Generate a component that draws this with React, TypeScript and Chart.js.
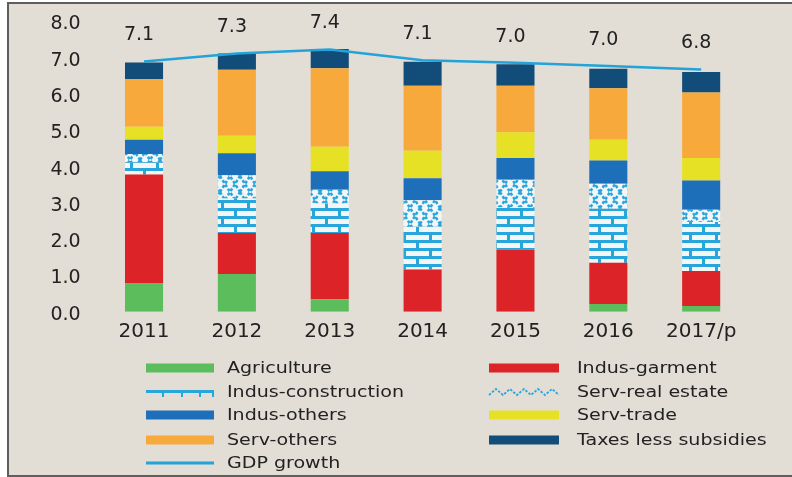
import React, { useEffect, useRef } from "react";
import { Chart, registerables } from "chart.js";

Chart.register(...registerables);

const categories = ["2011", "2012", "2013", "2014", "2015", "2016", "2017/p"];
const agriculture = [0.78, 1.04, 0.34, 0.0, 0.0, 0.21, 0.16];
const indusGarment = [3.0, 1.13, 1.83, 1.16, 1.71, 1.14, 0.96];
const indusConstruction = [0.34, 0.95, 0.81, 1.18, 1.17, 1.49, 1.35];
const servRealEstate = [0.23, 0.64, 0.38, 0.73, 0.76, 0.69, 0.34];
const indusOthers = [0.39, 0.61, 0.51, 0.61, 0.6, 0.64, 0.81];
const servTrade = [0.36, 0.48, 0.68, 0.76, 0.71, 0.57, 0.62];
const servOthers = [1.31, 1.82, 2.16, 1.79, 1.28, 1.42, 1.8];
const taxesLessSubsidies = [0.46, 0.45, 0.53, 0.66, 0.59, 0.54, 0.57];
const gdpGrowth = [6.9, 7.12, 7.23, 6.93, 6.86, 6.77, 6.68];
const gdpLabels = ["7.1", "7.3", "7.4", "7.1", "7.0", "7.0", "6.8"];

const FONT = "'DejaVu Sans', sans-serif";
const TEXT = "#222222";
const C_GREEN = "#5bbd5b";
const C_RED = "#dc2428";
const C_LIGHTBLUE = "#27a6dc";
const C_BLUE = "#1e6fba";
const C_YELLOW = "#e7e125";
const C_ORANGE = "#f7aa3b";
const C_NAVY = "#114d78";
const C_LINE = "#22a3d9";

function brickPattern(ctx: CanvasRenderingContext2D) {
  const c = document.createElement("canvas");
  c.width = 26;
  c.height = 16;
  const g = c.getContext("2d")!;
  g.fillStyle = "#f3f5f6";
  g.fillRect(0, 0, 26, 16);
  g.fillStyle = C_LIGHTBLUE;
  g.fillRect(0, 0, 26, 3);
  g.fillRect(0, 8, 26, 3);
  g.fillRect(0, 0, 3, 8);
  g.fillRect(13, 8, 3, 8);
  return ctx.createPattern(c, "repeat")!;
}

function xPattern(ctx: CanvasRenderingContext2D) {
  const c = document.createElement("canvas");
  c.width = 20;
  c.height = 16;
  const g = c.getContext("2d")!;
  g.fillStyle = "#f3f5f6";
  g.fillRect(0, 0, 20, 16);
  g.strokeStyle = C_LIGHTBLUE;
  g.lineWidth = 2.5;
  g.setLineDash([3, 2]);
  g.beginPath();
  g.moveTo(0, 0);
  g.lineTo(10, 16);
  g.lineTo(20, 0);
  g.moveTo(0, 16);
  g.lineTo(10, 0);
  g.lineTo(20, 16);
  g.stroke();
  return ctx.createPattern(c, "repeat")!;
}

type LegendItem = { label: string; kind: string; color: string };
const legendLeft: LegendItem[] = [
  { label: "Agriculture", kind: "solid", color: C_GREEN },
  { label: "Indus-construction", kind: "brick", color: C_LIGHTBLUE },
  { label: "Indus-others", kind: "solid", color: C_BLUE },
  { label: "Serv-others", kind: "solid", color: C_ORANGE },
  { label: "GDP growth", kind: "line", color: C_LINE },
];
const legendRight: LegendItem[] = [
  { label: "Indus-garment", kind: "solid", color: C_RED },
  { label: "Serv-real estate", kind: "zig", color: C_LIGHTBLUE },
  { label: "Serv-trade", kind: "solid", color: C_YELLOW },
  { label: "Taxes less subsidies", kind: "solid", color: C_NAVY },
];

function drawSwatch(ctx: CanvasRenderingContext2D, item: LegendItem, x: number, cy: number, w: number) {
  ctx.save();
  if (item.kind === "solid") {
    ctx.fillStyle = item.color;
    ctx.fillRect(x, cy - 4.5, w, 9);
  } else if (item.kind === "line") {
    ctx.strokeStyle = item.color;
    ctx.lineWidth = 3;
    ctx.beginPath();
    ctx.moveTo(x, cy);
    ctx.lineTo(x + w, cy);
    ctx.stroke();
  } else if (item.kind === "brick") {
    ctx.fillStyle = item.color;
    ctx.fillRect(x, cy - 2, w, 3);
    [16, 35, 53, w - 2].forEach((dx) => ctx.fillRect(x + dx, cy, 2, 5));
  } else if (item.kind === "zig") {
    ctx.strokeStyle = item.color;
    ctx.lineWidth = 1.8;
    ctx.setLineDash([2.5, 1.5]);
    ctx.beginPath();
    let up = true;
    ctx.moveTo(x, cy + 3);
    for (let dx = 7; dx <= w; dx += 7) {
      ctx.lineTo(x + dx, up ? cy - 3 : cy + 3);
      up = !up;
    }
    ctx.stroke();
  }
  ctx.restore();
}

function stretchedText(ctx: CanvasRenderingContext2D, s: string, x: number, y: number, sx: number) {
  ctx.save();
  ctx.translate(x, y);
  ctx.scale(sx, 1);
  ctx.fillText(s, 0, 0);
  ctx.restore();
}

const overlayPlugin = {
  id: "overlay",
  afterDatasetsDraw(chart: any) {
    const ctx: CanvasRenderingContext2D = chart.ctx;
    ctx.save();
    const meta = chart.getDatasetMeta(chart.data.datasets.length - 1);
    ctx.font = `19px ${FONT}`;
    ctx.fillStyle = TEXT;
    ctx.textAlign = "center";
    ctx.textBaseline = "middle";
    meta.data.forEach((pt: any, i: number) => {
      ctx.fillText(gdpLabels[i], pt.x - 5, pt.y - 26);
    });

    ctx.font = `16px ${FONT}`;
    ctx.textAlign = "left";
    const rows = [368, 392, 415, 440, 463];
    legendLeft.forEach((it, i) => {
      drawSwatch(ctx, it, 146, rows[i], 68);
      ctx.fillStyle = TEXT;
      stretchedText(ctx, it.label, 227, rows[i] + 1, 1.19);
    });
    legendRight.forEach((it, i) => {
      drawSwatch(ctx, it, 489, rows[i], 70);
      ctx.fillStyle = TEXT;
      stretchedText(ctx, it.label, 577, rows[i] + 1, 1.19);
    });
    ctx.restore();
  },
};

export default function App() {
  const ref = useRef<HTMLCanvasElement>(null);
  useEffect(() => {
    const canvas = ref.current!;
    const ctx = canvas.getContext("2d")!;
    const brick = brickPattern(ctx);
    const xs = xPattern(ctx);
    const bar = (label: string, data: number[], color: any) => ({
      type: "bar" as const,
      label,
      data,
      backgroundColor: color,
      borderWidth: 0,
      stack: "gdp-parts",
      order: 1,
      barPercentage: 0.41,
      categoryPercentage: 1,
    });
    const chart = new Chart(canvas, {
      type: "bar",
      data: {
        labels: categories,
        datasets: [
          bar("Agriculture", agriculture, C_GREEN),
          bar("Indus-garment", indusGarment, C_RED),
          bar("Indus-construction", indusConstruction, brick),
          bar("Serv-real estate", servRealEstate, xs),
          bar("Indus-others", indusOthers, C_BLUE),
          bar("Serv-trade", servTrade, C_YELLOW),
          bar("Serv-others", servOthers, C_ORANGE),
          bar("Taxes less subsidies", taxesLessSubsidies, C_NAVY),
          {
            type: "line" as const,
            label: "GDP growth",
            data: gdpGrowth,
            borderColor: C_LINE,
            borderWidth: 2.5,
            pointRadius: 0,
            tension: 0,
            stack: "gdp-line",
            order: 0,
          } as any,
        ],
      },
      options: {
        animation: false,
        responsive: true,
        maintainAspectRatio: false,
        layout: { padding: { top: 21.5, right: 44.4, left: 0, bottom: 0 } },
        plugins: { legend: { display: false }, tooltip: { enabled: false } },
        scales: {
          x: {
            stacked: true,
            grid: { display: false },
            border: { display: false },
            ticks: {
              color: TEXT,
              padding: 0,
              maxRotation: 0,
              autoSkip: false,
              font: { family: FONT, size: 20 },
            },
            afterFit: (s: any) => {
              s.height = 165.3;
            },
          },
          y: {
            stacked: true,
            min: 0,
            max: 8,
            grid: { display: false, drawTicks: true, tickLength: 17 },
            border: { display: false },
            ticks: {
              stepSize: 1,
              color: TEXT,
              padding: 0,
              labelOffset: 3,
              font: { family: FONT, size: 19 },
              callback: (v: any) => Number(v).toFixed(1),
            },
            afterFit: (s: any) => {
              s.width = 97.6;
            },
          },
        },
      },
      plugins: [overlayPlugin],
    });
    return () => chart.destroy();
  }, []);

  return (
    <div style={{ position: "fixed", left: 0, top: 0, width: 792, height: 477, background: "#ffffff", overflow: "hidden" }}>
      <div
        style={{
          position: "absolute",
          left: 7,
          top: 2,
          width: 800,
          height: 471,
          borderTop: "2px solid #5e5e5e",
          borderLeft: "2px solid #5e5e5e",
          borderBottom: "2px solid #5e5e5e",
          background: "#e2ddd5",
        }}
      />
      <div style={{ position: "absolute", left: 0, top: 0, width: 792, height: 477 }}>
        <canvas ref={ref} />
      </div>
    </div>
  );
}
